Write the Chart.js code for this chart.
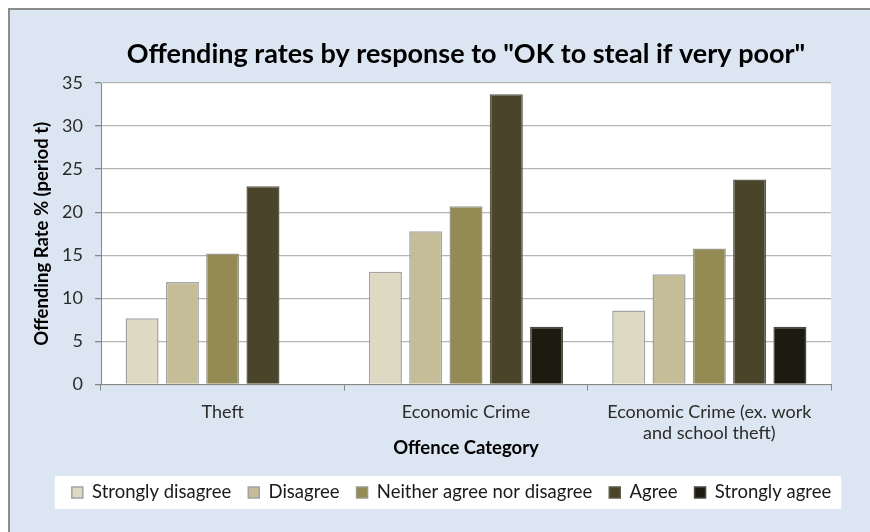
<!DOCTYPE html>
<html>
<head>
<meta charset="utf-8">
<title>Offending rates</title>
<script src="https://cdn.jsdelivr.net/npm/chart.js@4"></script>
<style>
  html, body { margin: 0; padding: 0; background: #ffffff; overflow: hidden; }
  .frame {
    position: absolute; left: 8px; top: 8px; width: 900px; height: 600px;
    background: #dce6f2; border-left: 2px solid #8c8c8c; border-top: 2px solid #8c8c8c;
  }
  #offendingChart { position: absolute; left: 0; top: 0; }
</style>
</head>
<body>
<div class="frame"></div>
<canvas id="offendingChart" width="870" height="532"></canvas>
<script>
// Offence categories on the x axis
const categories = ['Theft', 'Economic Crime', ['Economic Crime (ex. work', 'and school theft)']];

// Answer to "OK to steal if very poor" -> offending rate % per category
const responses = ['Strongly disagree', 'Disagree', 'Neither agree nor disagree', 'Agree', 'Strongly agree'];
const stronglyDisagree = [7.7, 13.1, 8.6];
const disagree = [11.9, 17.8, 12.8];
const neither = [15.2, 20.7, 15.8];
const agree = [23.0, 33.7, 23.8];
const stronglyAgree = [null, 6.7, 6.7];

const yMin = 0;
const yMax = 35;
const yStep = 5;

const fills = ['#ddd9c3', '#c4bd97', '#948a54', '#4a452a', '#1d1b10'];
const outlines = ['#a3a3a3', '#a3a3a3', '#9a9a8a', '#5e5b4c', '#4a4a42'];
const seriesValues = [stronglyDisagree, disagree, neither, agree, stronglyAgree];

const font = 'Lato, "Open Sans", sans-serif';

// white plot background and white legend panel
const backgrounds = {
  id: 'backgrounds',
  beforeDraw(chart) {
    const { ctx, chartArea } = chart;
    ctx.save();
    ctx.fillStyle = '#ffffff';
    ctx.fillRect(chartArea.left, chartArea.top, chartArea.right - chartArea.left, chartArea.bottom - chartArea.top);

    const boxes = chart.legend && chart.legend.legendHitBoxes;
    if (boxes && boxes.length) {
      const left = Math.min(...boxes.map(b => b.left)) - 17;
      const right = Math.max(...boxes.map(b => b.left + b.width)) + 10;
      const mid = boxes[0].top + boxes[0].height / 2;
      ctx.fillRect(left, mid - 16.5, right - left, 33);
    }
    ctx.restore();
  }
};

const ctx = document.getElementById('offendingChart');
new Chart(ctx, {
  type: 'bar',
  data: {
    labels: categories,
    datasets: responses.map((name, i) => ({
      label: name,
      data: seriesValues[i],
      backgroundColor: fills[i],
      borderColor: outlines[i],
      borderWidth: 1.5,
      categoryPercentage: 0.828,
      barPercentage: 0.82
    }))
  },
  options: {
    responsive: false,
    animation: false,
    devicePixelRatio: 1,
    layout: { padding: { left: 33, right: 0, top: 0, bottom: 20.25 } },
    plugins: {
      title: {
        display: true,
        text: 'Offending rates by response to "OK to steal if very poor"',
        fullSize: false,
        color: '#000000',
        font: { family: font, size: 27, weight: 'bold' },
        padding: { top: 37.8, bottom: 12.8 }
      },
      legend: {
        position: 'bottom',
        labels: {
          color: '#1a1a1a',
          font: { family: font, size: 18.5 },
          boxWidth: 11,
          boxHeight: 11,
          padding: 17
        }
      },
      tooltip: { enabled: false }
    },
    scales: {
      x: {
        grid: { drawOnChartArea: false, drawTicks: true, tickLength: 6, color: '#868686' },
        border: { color: '#868686', width: 1 },
        ticks: { color: '#2b2b2b', font: { family: font, size: 18 }, padding: 10.5, maxRotation: 0 },
        title: {
          display: true,
          text: 'Offence Category',
          color: '#000000',
          font: { family: font, size: 18.5, weight: 'bold' },
          padding: { top: 0, bottom: 6.85 }
        },
        afterFit(scale) { scale.height = 81.75; }
      },
      y: {
        min: yMin,
        max: yMax,
        ticks: { stepSize: yStep, color: '#2b2b2b', font: { family: font, size: 18 }, padding: 12 },
        grid: { color: '#b5b5b5', lineWidth: 1.3, tickLength: 6, tickColor: '#868686' },
        border: { color: '#868686', width: 1 },
        title: {
          display: true,
          text: 'Offending Rate % (period t)',
          color: '#000000',
          font: { family: font, size: 18.5, weight: 'bold' },
          padding: { top: -1.6, bottom: 0 }
        },
        afterFit(scale) { scale.width = 68; }
      },
      // empty axis that only reserves the gap right of the plot
      yRight: {
        position: 'right',
        display: true,
        grid: { display: false },
        border: { display: false },
        ticks: { display: false },
        afterFit(scale) { scale.width = 39; }
      }
    }
  },
  plugins: [backgrounds]
});
</script>
</body>
</html>
